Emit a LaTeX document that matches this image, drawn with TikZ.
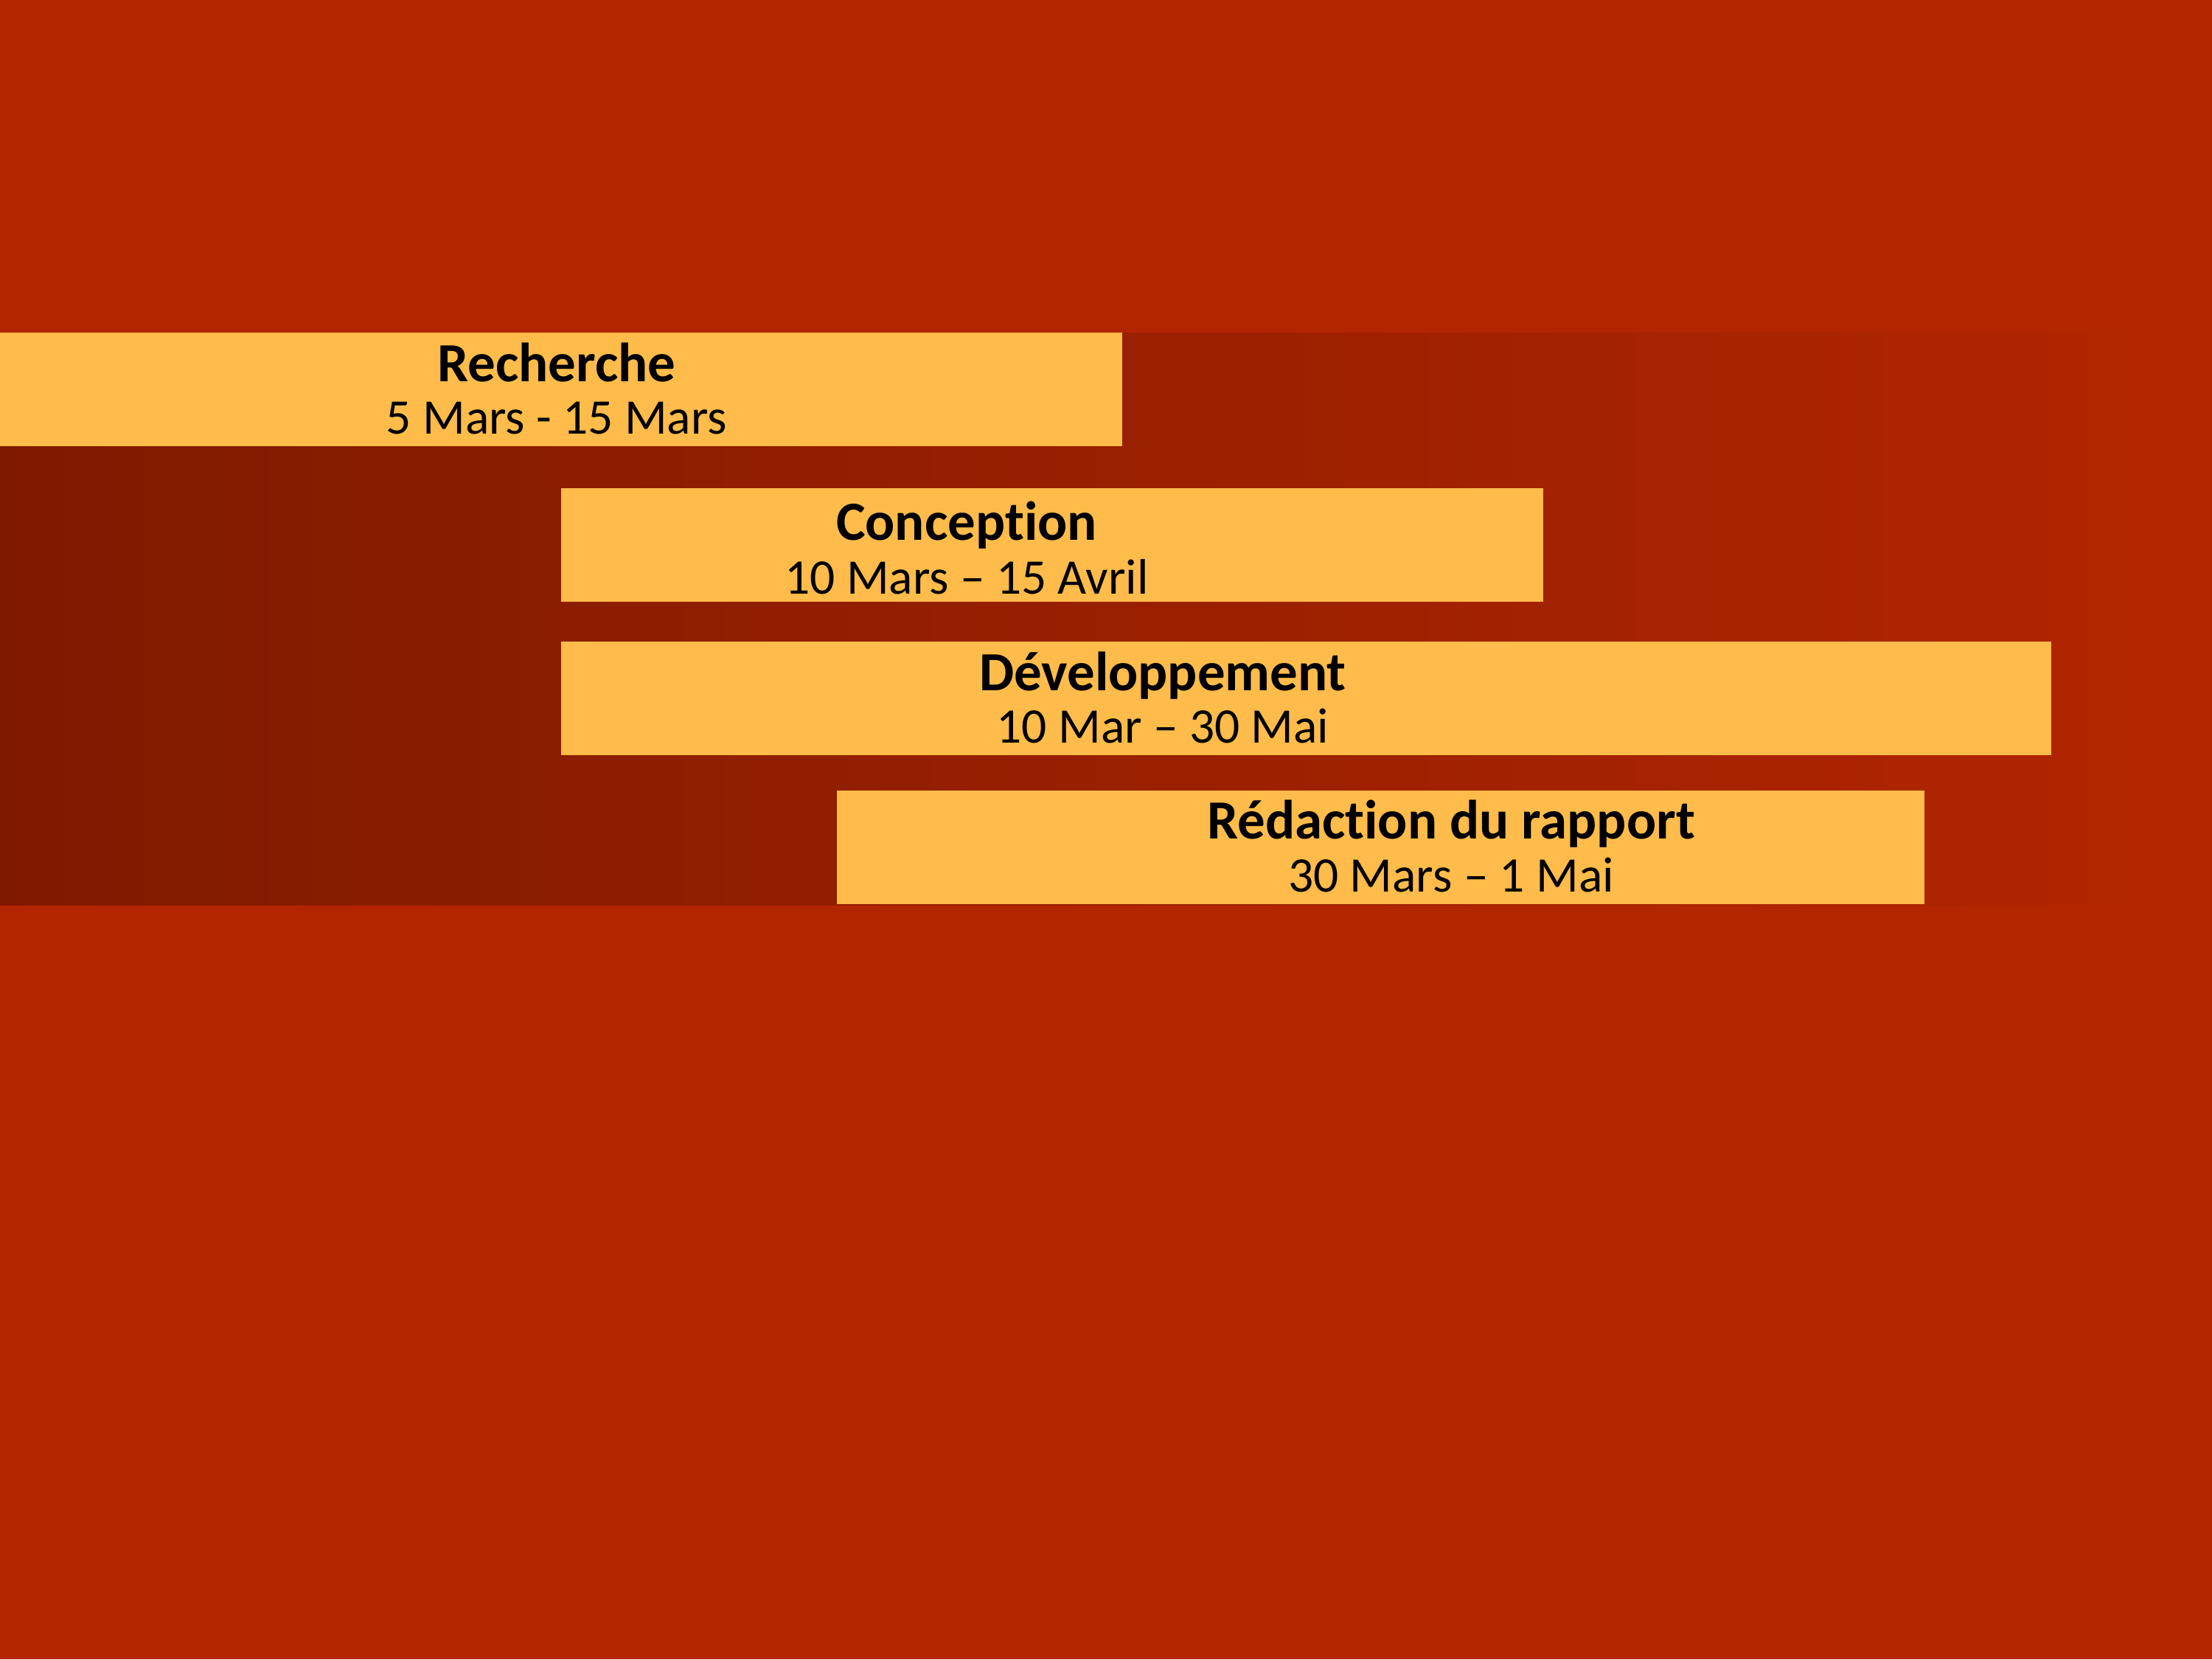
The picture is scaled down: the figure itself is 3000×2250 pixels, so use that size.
\documentclass[tikz,border=0pt]{standalone}
\usepackage{fontspec}
\setmainfont{Carlito}[RawFeature=-liga,RawFeature=-clig,RawFeature=-calt,RawFeature=-dlig]
\usepackage{tikz}
\usetikzlibrary{positioning}

\definecolor{fond}{RGB}{178,37,0}
\definecolor{fondsombre}{RGB}{126,26,0}
\definecolor{barre}{RGB}{255,188,74}

\begin{document}
\begin{tikzpicture}[x=0.01cm,y=-0.01cm,
	every node/.style={inner sep=0pt,outer sep=0pt},
	tache/.style={fill=barre,anchor=north west,minimum height=1.54cm},
	titre/.style={anchor=base,font=\fontsize{21.3}{25}\selectfont\bfseries},
	dates/.style={anchor=base,font=\fontsize{19.2}{22}\selectfont}]
	\useasboundingbox (0,0) rectangle (3000,2250);
	\fill[fond] (0,0) rectangle (3000,2250);
	\shade[left color=fondsombre,right color=fond] (0,451) rectangle (2918,1227);

	\node[tache,minimum width=15.21cm] (recherche) at (0,451) {};
	\node[tache,minimum width=13.31cm] (conception) at (761,662) {};
	\node[tache,minimum width=20.20cm] (developpement) at (761,870) {};
	\node[tache,minimum width=14.74cm] (redaction) at (1135,1072) {};

	\node[titre] (tRech) at (755,517) {Recherche};
	\node[dates] (dRech) at ([yshift=-0.71cm]tRech.base) {5 Mars - 15 Mars};
	\node[titre] (tConc) at (1311,732) {Conception};
	\node[dates] (dConc) at ([yshift=-0.73cm]tConc.base) {10 Mars -- 15 Avril};
	\node[titre] (tDev) at (1577,936) {Développement};
	\node[dates] (dDev) at ([yshift=-0.71cm]tDev.base) {10 Mar -- 30 Mai};
	\node[titre] (tRed) at (1968,1137) {Rédaction du rapport};
	\node[dates] (dRed) at ([yshift=-0.72cm]tRed.base) {30 Mars -- 1 Mai};
\end{tikzpicture}
\end{document}
